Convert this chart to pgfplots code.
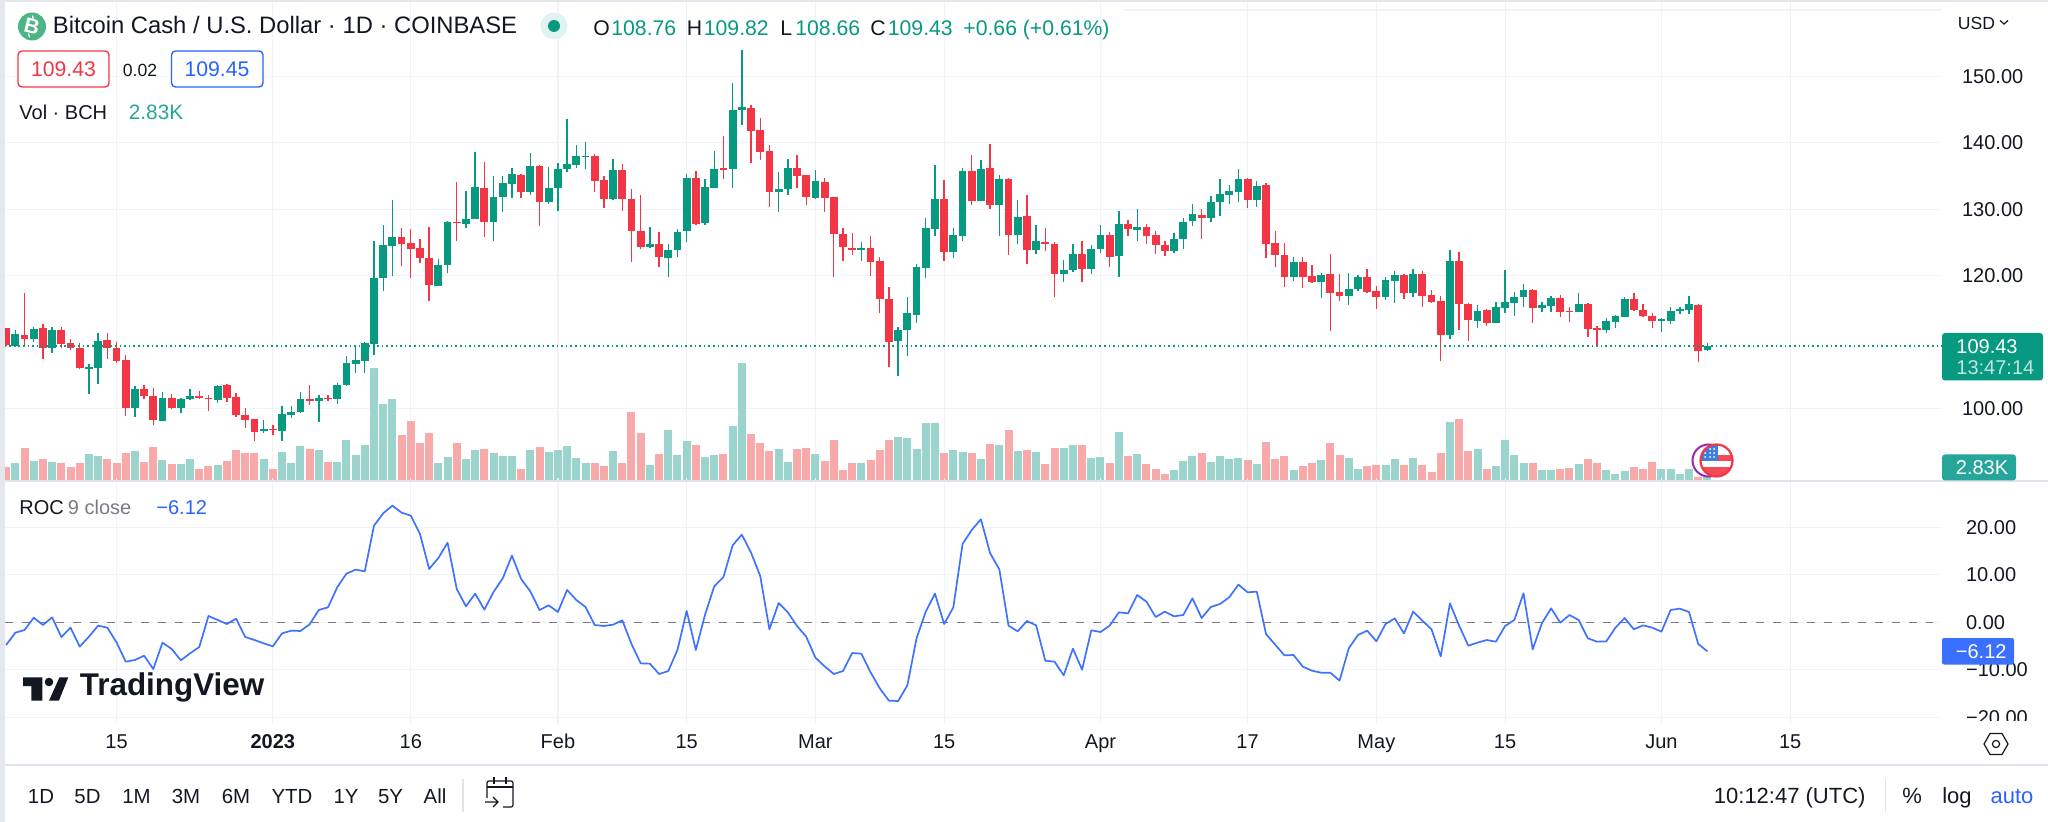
\documentclass[border=0pt]{standalone}
\usepackage{fontspec}
\setmainfont{Liberation Sans}
\usepackage{pgfplots}
\usepackage{pgfplotstable}
\pgfplotsset{compat=1.18}

\definecolor{upc}{HTML}{089981}
\definecolor{downc}{HTML}{F23645}
\definecolor{volup}{HTML}{9AD4CC}
\definecolor{voldown}{HTML}{F8A9A9}
\definecolor{tealc}{HTML}{26A69A}
\definecolor{bluec}{HTML}{2962FF}
\definecolor{inkc}{HTML}{131722}
\definecolor{greyc}{HTML}{787B86}
\definecolor{gridc}{HTML}{F0F3FA}
\definecolor{linec}{HTML}{E0E3EB}
\definecolor{bchc}{HTML}{4CB584}
\definecolor{purplec}{HTML}{9C27B0}
\definecolor{flagc}{HTML}{3D7FE0}

% d = days since 1 Jan 2023, o h l c in USD, v in thousands
\pgfplotstableread{
d o h l c v
-28 109.46 111.82 109.31 111.17 4.29
-26 110.47 112.22 110.07 111.97 4.83
-24 109.16 112.22 108.41 111.82 4.60
-20 106.00 106.70 102.23 106.30 6.43
-19 106.15 111.42 103.74 110.22 5.90
-15 100.02 103.39 98.77 102.99 7.12
-12 98.17 102.43 98.17 101.58 5.06
-10 100.12 101.53 99.37 101.43 4.14
-9 101.43 102.89 101.23 101.83 5.29
-6 101.33 103.54 100.88 103.44 3.98
-1 96.56 98.27 96.36 96.96 5.21
1 96.66 100.38 95.16 99.12 6.89
2 99.07 100.38 98.62 99.47 4.44
3 99.42 102.53 99.27 101.43 8.27
5 101.08 101.98 98.02 101.58 7.43
7 101.43 103.79 100.68 103.59 4.60
8 103.49 107.90 103.39 106.80 9.73
9 106.75 109.21 105.40 107.25 6.28
10 107.20 110.07 105.40 109.81 8.50
11 109.76 125.28 108.01 119.60 26.20
12 119.65 127.68 117.75 124.57 17.85
13 124.47 131.40 119.95 125.78 19.07
18 118.50 122.46 118.50 121.66 4.29
19 121.61 128.19 120.46 128.09 5.75
21 127.84 132.70 127.13 128.59 5.29
22 128.54 138.58 128.49 133.31 7.43
24 128.09 135.06 125.28 131.80 6.59
25 131.85 135.06 129.64 133.91 5.90
26 133.86 136.22 131.70 135.32 5.90
28 132.60 138.53 132.10 136.47 7.28
30 131.10 136.42 130.80 133.16 6.89
31 133.16 136.92 129.79 136.07 7.28
32 136.12 143.55 135.67 136.77 8.27
33 136.67 139.68 136.27 137.98 5.52
34 137.93 140.13 136.12 138.08 4.44
37 131.50 137.62 131.40 135.87 7.12
41 124.32 127.33 124.12 124.72 3.91
43 122.72 124.72 119.75 123.82 12.03
44 123.82 127.08 122.87 126.63 6.20
45 126.73 135.32 125.13 134.71 9.35
47 127.94 134.61 127.58 133.36 5.82
48 133.26 138.78 133.26 136.07 6.20
50 136.07 148.97 133.26 144.95 12.87
51 144.95 153.99 142.69 145.36 27.35
55 132.65 135.67 129.59 133.11 7.51
56 133.06 137.52 132.15 136.22 4.60
59 131.70 135.92 131.55 134.21 6.43
64 123.92 125.02 122.21 124.22 4.29
68 110.22 112.22 104.94 111.87 10.42
69 111.82 116.84 107.96 114.33 10.11
70 114.08 121.76 112.83 121.26 7.58
71 121.16 128.74 119.70 127.13 13.56
72 127.03 136.67 125.98 131.50 13.56
74 123.62 127.23 122.71 126.08 7.28
75 126.03 136.17 125.23 135.77 6.89
77 131.25 137.42 131.25 136.12 5.29
79 130.65 135.16 126.03 134.51 8.50
81 126.13 131.40 124.72 128.79 7.12
83 123.87 127.68 123.27 125.23 6.89
86 120.30 122.36 119.05 120.81 7.81
87 120.86 124.82 120.61 123.27 8.50
89 121.01 124.57 120.30 123.97 5.52
90 123.97 127.63 123.37 126.18 5.75
92 122.97 129.69 119.75 127.79 11.49
94 126.93 129.99 125.18 127.28 6.43
98 123.67 126.43 123.42 125.53 2.76
99 125.53 128.64 123.97 128.14 4.83
100 128.19 130.80 127.48 129.29 6.05
102 128.74 132.00 128.09 131.15 4.60
103 131.10 134.51 128.99 132.30 6.05
104 132.20 133.66 130.80 132.75 5.29
105 132.60 136.12 131.05 134.51 5.52
107 131.40 134.21 130.35 133.56 4.14
111 119.75 122.87 119.20 122.06 2.76
114 119.05 120.36 116.69 120.16 5.06
117 116.99 120.36 115.64 117.94 5.52
118 117.99 120.16 117.75 119.80 2.91
121 116.84 119.75 116.39 119.35 3.91
122 119.20 120.76 115.94 120.10 5.29
124 117.39 120.96 116.74 120.20 5.52
128 111.07 123.87 110.42 122.16 13.79
131 113.23 115.59 112.12 114.73 7.58
133 112.93 116.09 112.93 115.24 3.60
134 115.14 120.86 114.33 115.99 9.58
135 115.94 117.59 113.98 116.74 6.20
136 116.74 118.70 115.34 117.85 4.44
138 115.19 116.09 114.48 115.59 2.76
139 115.44 116.94 114.58 116.59 2.76
142 114.58 117.39 114.53 115.74 4.14
145 111.82 113.68 111.42 113.23 2.76
146 113.08 114.13 112.12 113.93 1.84
147 113.83 116.84 113.73 116.49 2.53
151 113.23 113.63 111.52 113.43 2.99
152 113.18 115.34 112.73 114.73 2.91
153 114.68 115.24 114.23 114.98 1.84
154 114.88 116.94 114.23 115.69 2.91
156 108.76 109.82 108.66 109.43 2.83
}\upcandles

\pgfplotstableread{
d o h l c v
-29 112.07 112.17 109.46 109.56 3.45
-27 111.02 117.39 109.31 110.42 7.81
-25 112.12 112.73 107.50 109.06 5.21
-23 111.77 112.22 109.06 109.71 4.29
-22 109.81 110.47 108.81 109.06 3.45
-21 109.11 109.91 105.90 106.05 4.44
-18 110.27 111.42 107.40 109.06 5.29
-17 109.11 110.01 106.80 107.20 4.44
-16 107.25 108.01 98.92 100.02 6.74
-14 102.99 103.54 101.38 101.88 4.60
-13 101.93 103.04 97.46 98.27 8.04
-11 101.58 102.13 99.87 100.07 4.14
-8 101.83 102.59 101.43 101.53 2.91
-7 101.58 101.98 99.67 101.38 3.75
-5 103.54 103.69 100.93 101.53 4.83
-4 101.73 102.38 98.67 99.02 7.28
-3 99.02 100.02 97.06 98.32 6.74
-2 98.37 98.42 95.16 96.51 6.74
0 96.86 97.51 96.06 96.71 3.06
4 101.38 103.49 100.53 101.13 7.66
6 101.58 102.08 101.18 101.38 4.60
14 125.78 127.18 121.46 124.82 10.80
15 124.87 126.98 119.60 124.07 14.02
16 124.12 125.58 121.86 122.67 8.96
17 122.72 127.28 116.24 118.60 11.18
20 128.09 134.16 125.28 127.89 8.96
23 133.16 137.12 125.78 128.14 7.58
27 135.16 135.32 131.70 132.65 2.99
29 136.52 136.62 127.53 131.10 8.04
35 138.03 138.33 132.65 134.31 4.29
36 134.36 135.01 130.25 131.60 3.60
38 135.97 136.82 129.79 131.60 4.44
39 131.60 133.01 122.11 126.73 16.09
40 126.73 132.10 124.02 124.27 11.18
42 124.72 126.53 121.36 122.82 6.43
46 134.71 135.72 127.58 127.84 8.50
49 136.22 141.09 134.61 135.92 6.43
52 145.21 145.66 136.92 141.84 11.03
53 141.89 143.75 137.42 138.58 9.04
54 138.78 139.63 130.35 132.55 7.12
57 136.22 138.18 133.26 135.01 7.58
58 135.11 135.22 130.60 131.85 7.81
60 134.16 134.71 129.64 131.70 4.83
61 131.85 131.85 119.75 126.33 9.73
62 126.33 127.13 122.26 124.32 2.76
63 124.22 126.43 123.12 123.92 4.44
65 124.22 125.98 119.95 122.11 5.06
66 122.26 122.77 114.43 116.54 7.43
67 116.49 118.35 106.30 110.01 9.58
73 131.50 134.41 122.26 123.62 6.59
76 135.77 138.18 130.70 131.25 6.74
78 136.17 139.83 130.04 130.65 8.73
80 134.51 134.66 123.12 126.13 12.03
82 128.99 132.10 121.71 123.92 7.28
84 125.13 127.23 123.72 124.72 4.14
85 124.72 125.07 116.74 120.30 7.81
88 123.27 125.28 119.05 121.01 8.50
91 126.08 126.53 121.26 122.82 4.29
93 127.79 128.39 125.98 127.03 5.90
95 127.28 127.74 124.77 126.03 4.14
96 126.18 126.68 123.27 124.62 2.99
97 124.62 125.28 122.97 123.72 1.84
101 129.14 130.04 125.58 128.74 6.59
106 134.56 134.66 130.20 131.45 5.06
108 133.66 133.96 122.71 124.82 9.19
109 124.87 126.78 121.36 123.12 5.29
110 123.12 124.92 118.25 119.75 5.90
112 122.06 122.87 118.20 119.75 3.60
113 119.95 121.56 118.85 119.05 4.29
115 120.20 123.27 111.72 117.44 8.96
116 117.54 120.30 116.24 116.94 6.20
119 119.75 120.96 117.44 117.54 3.60
120 117.64 118.45 115.03 116.84 3.91
123 120.10 120.26 116.54 117.34 3.91
125 120.20 120.76 115.34 116.99 3.91
126 117.09 117.89 115.94 116.09 2.30
127 116.14 116.89 107.20 111.12 6.59
129 122.16 123.57 111.82 115.79 14.48
130 115.79 115.89 110.17 113.33 7.12
132 114.88 114.98 112.47 112.93 2.91
137 117.90 118.00 112.83 115.19 4.29
140 116.64 117.09 113.83 114.58 2.99
141 114.73 115.24 113.03 114.53 3.22
143 115.79 115.89 110.82 111.92 5.21
144 112.07 112.37 109.31 111.87 4.44
148 116.49 117.34 114.68 114.78 3.45
149 114.83 115.74 113.83 113.88 2.91
150 113.93 114.43 112.12 113.18 4.60
155 115.59 115.74 106.95 108.71 1.15
}\downcandles

\pgfplotstableread{
d r
-29 -4.77
-28 -2.18
-27 -1.61
-26 0.98
-25 -0.56
-24 1.05
-23 -3.09
-22 -1.12
-21 -5.12
-20 -3.02
-19 -0.70
-18 -1.12
-17 -4.21
-16 -8.28
-15 -7.93
-14 -7.02
-13 -9.83
-12 -4.28
-11 -5.61
-10 -8.00
-9 -6.53
-8 -5.19
-7 1.33
-6 0.49
-5 -0.35
-4 0.77
-3 -3.09
-2 -3.72
-1 -4.42
0 -5.05
1 -2.32
2 -1.75
3 -1.82
4 -0.42
5 2.60
6 3.16
7 7.37
8 10.25
9 11.09
10 10.74
11 20.35
12 22.95
13 24.56
14 23.09
15 22.46
16 18.60
17 11.23
18 13.54
19 16.77
20 7.02
21 3.37
22 6.04
23 2.67
24 6.39
25 9.26
26 14.04
27 9.12
28 6.53
29 2.60
30 3.58
31 2.18
32 6.81
33 4.70
34 3.23
35 -0.56
36 -0.77
37 -0.49
38 0.42
39 -4.56
40 -8.63
41 -8.70
42 -10.88
43 -10.25
44 -5.82
45 2.39
46 -5.82
47 1.61
48 7.58
49 9.54
50 16.21
51 18.46
52 14.67
53 9.75
54 -1.47
55 4.07
56 2.11
57 -0.77
58 -3.02
59 -7.44
60 -9.26
61 -10.88
62 -10.25
63 -6.46
64 -6.60
65 -10.53
66 -13.90
67 -16.49
68 -16.56
69 -13.26
70 -3.37
71 2.25
72 6.04
73 -0.35
74 3.16
75 16.49
76 19.44
77 21.69
78 14.53
79 11.16
80 -0.70
81 -1.89
82 0.28
83 -0.63
84 -8.07
85 -8.28
86 -11.16
87 -5.54
88 -9.97
89 -1.68
90 -2.04
91 -0.70
92 2.11
93 1.89
94 5.75
95 4.35
96 1.12
97 2.25
98 1.26
99 1.54
100 5.05
101 0.91
102 3.23
103 3.86
104 5.26
105 7.93
106 6.32
107 6.46
108 -2.46
109 -4.70
110 -6.95
111 -6.88
112 -9.33
113 -10.18
114 -10.60
115 -10.60
116 -12.28
117 -5.47
118 -2.67
119 -1.75
120 -4.00
121 -0.35
122 0.84
123 -2.32
124 2.25
125 0.35
126 -1.47
127 -7.16
128 4.00
129 -0.70
130 -4.91
131 -4.28
132 -3.72
133 -4.07
134 -0.77
135 0.49
136 6.11
137 -5.68
138 -0.21
139 2.95
140 -0.07
141 1.54
142 0.49
143 -3.37
144 -4.07
145 -4.00
146 -1.12
147 0.91
148 -1.47
149 -0.63
150 -1.12
151 -1.96
152 2.60
153 2.88
154 2.18
155 -4.56
156 -6.12
}\roctable

\pgfplotsset{
  pane/.style={
    scale only axis, width=968.65pt,
    xmin=-29.18, xmax=181.49,
    xtick={-17,0,15,31,45,59,73,90,106,120,134,151,165},
    xticklabels={},
    xmajorgrids, ymajorgrids,
    major grid style={gridc, line width=0.6pt},
    axis line style={draw=none},
    ytick style={draw=none}, xtick style={draw=none},
    yticklabel pos=right,
    y tick label style={anchor=west, xshift=6.6pt, font=\fontsize{10}{10}\selectfont, text=inkc, text height=7pt, text depth=0pt},
    x tick label style={font=\fontsize{10}{10}\selectfont, text=inkc},
  },
}

\newcommand{\candles}[2]{%
  \addplot[draw=none, no marks, forget plot,
    error bars/.cd, y dir=plus, y explicit, error mark=none,
    error bar style={draw=#2, solid, line width=0.68pt}]
    table[x=d, y=l, y error plus expr=\thisrow{h}-\thisrow{l}] {#1};
  \addplot[draw=none, no marks, forget plot,
    error bars/.cd, y dir=plus, y explicit, error mark=none,
    error bar style={draw=#2, solid, line width=3.9pt}]
    table[x=d, y expr={min(\thisrow{o},\thisrow{c})}, y error plus expr={abs(\thisrow{c}-\thisrow{o})}] {#1};
}

\begin{document}
\begin{tikzpicture}[x=0.5pt,y=-0.5pt]
\useasboundingbox (0,0) rectangle (2048,822);

% price pane
\begin{axis}[pane, at={(2.25pt,-1pt)}, anchor=north west, height=239.5pt,
  ymin=89.08, ymax=161.22,
  ytick={100,120,130,140,150},
  yticklabels={100.00,120.00,130.00,140.00,150.00}]
\addplot[gridc, line width=0.6pt, forget plot] coordinates {(92.4,160) (181.49,160)};
\candles{\upcandles}{upc}
\candles{\downcandles}{downc}
\addplot[upc, line width=0.7pt, dash pattern=on 0.8pt off 1.5pt, forget plot] coordinates {(-29.18,109.43) (181.49,109.43)};
\end{axis}

% volume, same box
\begin{axis}[at={(2.25pt,-1pt)}, anchor=north west, hide axis, scale only axis,
  width=968.65pt, height=240pt, xmin=-29.18, xmax=181.49, ymin=0, ymax=110.1]
\addplot[ycomb, volup, line width=4pt, forget plot] table[x=d, y=v] {\upcandles};
\addplot[ycomb, voldown, line width=4pt, forget plot] table[x=d, y=v] {\downcandles};
\end{axis}

% ROC pane
\begin{axis}[pane, at={(2.25pt,-241pt)}, anchor=north west, height=119pt,
  ymin=-20.56, ymax=29.54,
  ytick={-20,-10,0,10,20},
  yticklabels={−20.00,−10.00,0.00,10.00,20.00},
  xticklabels={15,\bfseries 2023,16,Feb,15,Mar,15,Apr,17,May,15,Jun,15},
  xtick style={draw=gridc, line width=0.6pt}, major tick length=2pt, tick align=outside,
  x tick label style={anchor=center, yshift=-8.5pt, text height=7pt, text depth=0pt}]
\addplot[greyc, line width=0.8pt, dash pattern=on 4pt off 4.5pt, forget plot] coordinates {(-29.18,0) (180.5,0)};
\addplot[bluec!90!white, line width=0.85pt, line join=round, forget plot] table[x=d, y=r] {\roctable};
\end{axis}

% everything around the panes
\tikzset{
  t/.style={inner sep=0pt, anchor=west, text height=7pt, text depth=0pt, text=inkc, font=\fontsize{10}{10}\selectfont},
  c/.style={t, anchor=center},
  big/.style={font=\fontsize{10.6}{11}\selectfont},
  bar/.style={font=\fontsize{11}{12}\selectfont},
}
\fill[white] (1942,720.6) rectangle (2048,765);
\fill[linec!85!white] (0,0) rectangle (4.5,822);
\fill[linec!85!white] (0,0) rectangle (2048,2);
\draw[linec, line width=0.7pt] (4.5,481) -- (2048,481);
\draw[linec, line width=0.7pt] (4.5,765) -- (2048,765);

% header
\fill[bchc] (32,26.5) circle (14);
\node[c, text=white, rotate=-14, font=\fontsize{10.5}{11}\bfseries\selectfont] at (32,26.5) {B};
\draw[white, line width=0.6pt] (32.5,15.5) -- (33.4,19.5) (28.6,33.5) -- (29.5,37.5);
\node[t, font=\fontsize{11.9}{12}\selectfont] at (52.5,26.5) {Bitcoin Cash / U.S. Dollar · 1D · COINBASE};
\fill[upc!12!white] (554,26) circle (13.5);
\fill[upc] (554,26) circle (6);
\node[t, big] at (593,28.5) {O};
\node[t, big, text=upc] at (611,28.5) {108.76};
\node[t, big] at (686.5,28.5) {H};
\node[t, big, text=upc] at (703.5,28.5) {109.82};
\node[t, big] at (780,28.5) {L};
\node[t, big, text=upc] at (795,28.5) {108.66};
\node[t, big] at (870,28.5) {C};
\node[t, big, text=upc] at (887.5,28.5) {109.43};
\node[t, big, text=upc] at (963,28.5) {+0.66 (+0.61\%)};
\draw[downc, line width=0.7pt, rounded corners=2pt, fill=white] (18,51) rectangle (109,87);
\node[c, big, text=downc] at (63.5,69.5) {109.43};
\node[c, font=\fontsize{8.8}{9}\selectfont] at (140,69.5) {0.02};
\draw[bluec, line width=0.7pt, rounded corners=2pt, fill=white] (171.5,51) rectangle (263,87);
\node[c, big, text=bluec] at (217,69.5) {109.45};
\node[t] at (19,112.5) {Vol · BCH};
\node[t, text=tealc, font=\fontsize{10.4}{11}\selectfont] at (128.5,112.5) {2.83K};

% right scale
\node[t, font=\fontsize{8.8}{9}\selectfont] at (1957.5,22.5) {USD};
\draw[inkc, line width=0.6pt] (2000,20.5) -- (2004,24) -- (2008,20.5);
\fill[upc, rounded corners=1.5pt] (1942,333) rectangle (2043,380.5);
\node[t, text=white] at (1956,346.5) {109.43};
\node[t, text=white!75!upc] at (1956,367.5) {13:47:14};
\fill[tealc, rounded corners=1.5pt] (1942,454.5) rectangle (2016,480.5);
\node[t, text=white] at (1955.5,468) {2.83K};
\fill[bluec!92!white, rounded corners=1pt] (1942,638) rectangle (2014,664.5);
\node[t, text=white] at (1955.5,651.5) {−6.12};

% flag marker on the last bars
\draw[purplec, line width=1pt, fill=white] (1708.5,460.5) circle (16);
\begin{scope}
  \clip (1716.5,460.5) circle (16);
  \fill[white] (1699,444) rectangle (1734,477);
  \fill[downc!90!white] (1716,455) rectangle (1734,461);
  \fill[downc!90!white] (1699,467) rectangle (1734,477);
  \fill[flagc] (1699,444) rectangle (1718,461);
  \foreach \a in {1705,1710,1714} \foreach \b in {449,453,457} \fill[white] (\a,\b) circle (1);
\end{scope}
\draw[downc, line width=1.1pt] (1716.5,460.5) circle (16);

% ROC legend and logo
\node[t] at (19,507.5) {ROC};
\node[t, text=greyc] at (67.5,507.5) {9 close};
\node[t, text=bluec] at (156,507.5) {−6.12};
\fill[inkc] (23.2,677.3) -- (42.4,677.3) -- (42.4,700.7) -- (31.3,700.7) -- (31.3,686) -- (23.2,686) -- cycle;
\fill[inkc] (49,682) circle (4.3);
\fill[inkc] (59.5,677.3) -- (68.3,677.3) -- (58.9,700.7) -- (49,700.7) -- cycle;
\node[t, font=\fontsize{15.7}{16}\bfseries\selectfont] at (79.5,688.5) {TradingView};

% settings hexagon
\draw[inkc, line width=0.6pt] (1984,744) -- (1990,733.5) -- (2002,733.5) -- (2008,744) -- (2002,754.5) -- (1990,754.5) -- cycle;
\draw[inkc, line width=0.6pt] (1996,744) circle (3.6);

% bottom toolbar
\foreach \x/\s in {41/1D,87.5/5D,136.5/1M,186/3M,236/6M,292/YTD,346/1Y,390.5/5Y,435/All}
  \node[c, font=\fontsize{10.2}{11}\selectfont] at (\x,796.5) {\s};
\draw[linec, line width=0.6pt] (463,779) -- (463,811.5);
\draw[inkc, line width=0.6pt, rounded corners=1pt] (487,798) -- (487,781) -- (513,781) -- (513,807) -- (503,807);
\draw[inkc, line width=0.6pt] (487,787) -- (513,787) (494,777) -- (494,784) (506,777) -- (506,784);
\draw[inkc, line width=0.6pt] (485,802) -- (498,802) (493,797) -- (498,802) -- (493,807);
\node[t, bar] at (1713.5,796.5) {10:12:47 (UTC)};
\draw[linec, line width=0.6pt] (1885.5,779) -- (1885.5,811.5);
\node[c, bar] at (1912,796.5) {\%};
\node[c, bar] at (1957,796.5) {log};
\node[c, bar, text=bluec] at (2012,796.5) {auto};
\end{tikzpicture}
\end{document}
